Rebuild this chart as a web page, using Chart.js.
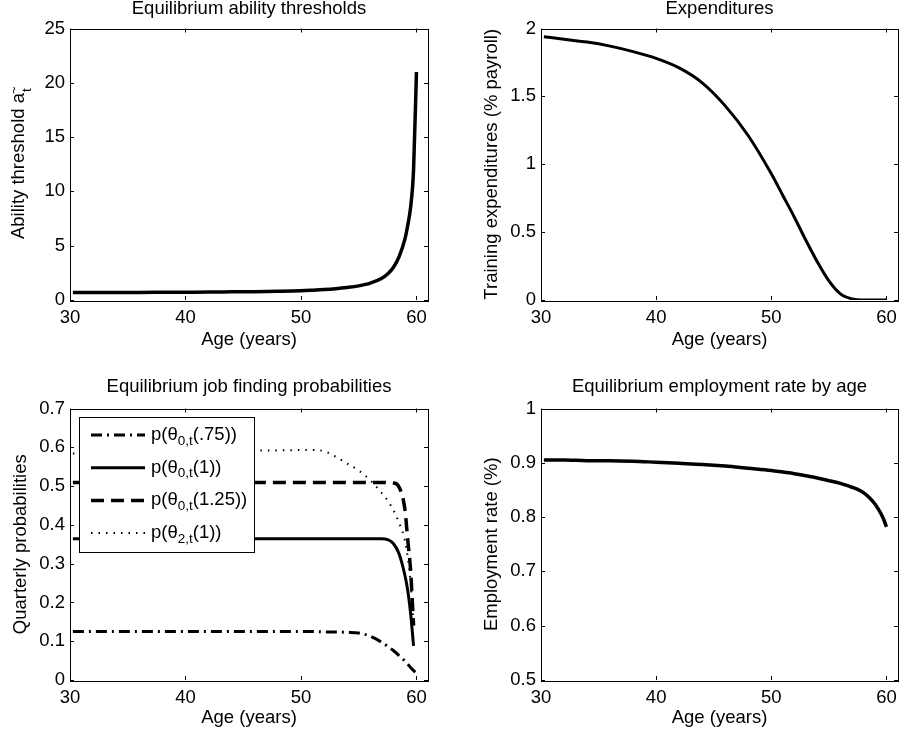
<!DOCTYPE html>
<html>
<head>
<meta charset="utf-8">
<script src="https://cdn.jsdelivr.net/npm/chart.js@4.4.1/dist/chart.umd.min.js"></script>
<style>
body{margin:0;background:#fff;width:900px;height:735px;position:relative;overflow:hidden}
canvas{position:absolute}
</style>
</head>
<body>
<canvas id="c1" width="450" height="360" style="left:0;top:0"></canvas>
<canvas id="c2" width="450" height="360" style="left:450px;top:0"></canvas>
<canvas id="c3" width="450" height="375" style="left:0;top:360px"></canvas>
<canvas id="c4" width="450" height="375" style="left:450px;top:360px"></canvas>
<script>
// ages (years), quarterly model
const ages = [30.25, 32, 34, 36, 38, 40, 42, 44, 46, 48, 50, 51, 52, 53, 54, 55, 56, 57, 57.5, 58, 58.5, 59, 59.25, 59.5, 59.75, 60];

const thresholds = [0.7, 0.7, 0.7, 0.7, 0.71, 0.72, 0.73, 0.75, 0.77, 0.8, 0.85, 0.9, 0.96, 1.04, 1.15, 1.3, 1.55, 2.0, 2.4, 3.0, 4.0, 5.6, 6.9, 8.6, 12, 21];
const expenditures = [1.94, 1.92, 1.9, 1.87, 1.83, 1.78, 1.71, 1.6, 1.43, 1.21, 0.93, 0.77, 0.61, 0.44, 0.28, 0.14, 0.045, 0.008, 0.002, 0, 0, 0, 0, 0, 0, 0];
const employment = [0.905, 0.905, 0.904, 0.904, 0.903, 0.901, 0.899, 0.897, 0.894, 0.89, 0.886, 0.883, 0.88, 0.876, 0.872, 0.867, 0.862, 0.855, 0.851, 0.845, 0.836, 0.824, 0.816, 0.807, 0.796, 0.782];

const p075 = [0.125, 0.125, 0.125, 0.125, 0.125, 0.125, 0.125, 0.125, 0.125, 0.125, 0.125, 0.125, 0.124, 0.124, 0.123, 0.121, 0.113, 0.097, 0.087, 0.076, 0.063, 0.049, 0.041, 0.032, 0.024, 0.018];
const p100 = [0.364, 0.364, 0.364, 0.364, 0.364, 0.364, 0.364, 0.364, 0.364, 0.364, 0.364, 0.364, 0.364, 0.364, 0.364, 0.364, 0.364, 0.364, 0.362, 0.352, 0.325, 0.27, 0.23, 0.17, 0.088, null];
const p125 = [0.509, 0.509, 0.509, 0.509, 0.509, 0.509, 0.509, 0.509, 0.509, 0.509, 0.509, 0.509, 0.509, 0.509, 0.509, 0.509, 0.509, 0.509, 0.509, 0.508, 0.497, 0.44, 0.36, 0.28, 0.14, null];
const p2 = [0.584, 0.585, 0.586, 0.587, 0.588, 0.589, 0.59, 0.591, 0.592, 0.592, 0.593, 0.593, 0.59, 0.576, 0.558, 0.54, 0.515, 0.482, 0.463, 0.438, 0.405, 0.36, 0.315, 0.25, 0.15, null];

// legend text pieces: p(θ_sub arg
const legendSubs = ['0,t', '0,t', '0,t', '2,t'];
const legendArgs = ['(.75))', '(1))', '(1.25))', '(1))'];

const xTicks = [30, 40, 50, 60];
const yTicks1 = [0, 5, 10, 15, 20, 25];
const yLabels1 = ['0', '5', '10', '15', '20', '25'];
const yTicks2 = [0, 0.5, 1, 1.5, 2];
const yLabels2 = ['0', '0.5', '1', '1.5', '2'];
const yTicks3 = [0, 0.1, 0.2, 0.3, 0.4, 0.5, 0.6, 0.7];
const yLabels3 = ['0', '0.1', '0.2', '0.3', '0.4', '0.5', '0.6', '0.7'];
const yTicks4 = [0.5, 0.6, 0.7, 0.8, 0.9, 1];
const yLabels4 = ['0.5', '0.6', '0.7', '0.8', '0.9', '1'];

const FONT = '"Liberation Sans", Arial, Helvetica, sans-serif';
const FS = 18.5;
Chart.defaults.font.family = FONT;
Chart.defaults.color = '#000';

function pts(vals){
  return ages.map((a, i) => ({x: a, y: vals[i]}));
}

function line(label, vals, width, dash){
  return {
    label: label,
    data: pts(vals),
    borderColor: '#000',
    borderWidth: width,
    borderDash: dash || [],
    pointRadius: 0,
    fill: false,
    cubicInterpolationMode: 'monotone'
  };
}

// box round the plot + inward tick marks on all sides
const framePlugin = {
  id: 'frame',
  afterDatasetsDraw(chart){
    const ctx = chart.ctx;
    const a = chart.chartArea;
    const x = chart.scales.x, y = chart.scales.y;
    const len = 4;
    ctx.save();
    ctx.strokeStyle = '#000';
    ctx.lineWidth = 1;
    ctx.strokeRect(Math.round(a.left) + 0.5, Math.round(a.top) + 0.5, Math.round(a.right - a.left), Math.round(a.bottom - a.top));
    ctx.beginPath();
    x.ticks.forEach(t => {
      const px = Math.round(x.getPixelForValue(t.value)) + 0.5;
      ctx.moveTo(px, a.bottom); ctx.lineTo(px, a.bottom - len);
      ctx.moveTo(px, a.top); ctx.lineTo(px, a.top + len);
    });
    y.ticks.forEach(t => {
      const py = Math.round(y.getPixelForValue(t.value)) + 0.5;
      ctx.moveTo(a.left, py); ctx.lineTo(a.left + len, py);
      ctx.moveTo(a.right, py); ctx.lineTo(a.right - len, py);
    });
    ctx.stroke();
    ctx.restore();
  }
};

// y label with subscript t and tilde for the first panel
const thresholdLabel = {
  id: 'thresholdLabel',
  afterDraw(chart){
    const ctx = chart.ctx;
    const a = chart.chartArea;
    ctx.save();
    ctx.translate(19, (a.top + a.bottom) / 2);
    ctx.rotate(-Math.PI / 2);
    ctx.fillStyle = '#000';
    ctx.textBaseline = 'middle';
    ctx.font = FS + 'px ' + FONT;
    const main = 'Ability threshold a';
    const w1 = ctx.measureText(main).width;
    ctx.font = '13px ' + FONT;
    const w2 = ctx.measureText('t').width;
    const x0 = -(w1 + w2) / 2;
    ctx.font = FS + 'px ' + FONT;
    ctx.fillText(main, x0, 0);
    ctx.font = '13px ' + FONT;
    ctx.fillText('t', x0 + w1 + 1, 8);
    ctx.fillText('~', x0 + w1 - 1, -5);
    ctx.restore();
  }
};

// legend box inside the job finding panel
const probLegend = {
  id: 'probLegend',
  afterDraw(chart){
    const ctx = chart.ctx;
    const bx = 79, by = 57, bw = 175, bh = 135;
    ctx.save();
    ctx.fillStyle = '#fff';
    ctx.fillRect(bx, by, bw, bh);
    ctx.strokeStyle = '#000';
    ctx.lineWidth = 1;
    ctx.strokeRect(bx + 0.5, by + 0.5, bw, bh);
    chart.data.datasets.forEach((ds, i) => {
      const cy = by + 18 + i * 32.7;
      ctx.beginPath();
      ctx.setLineDash(ds.borderDash);
      ctx.lineWidth = ds.borderWidth;
      ctx.moveTo(91, cy);
      ctx.lineTo(145, cy);
      ctx.stroke();
      ctx.setLineDash([]);
      ctx.fillStyle = '#000';
      ctx.textBaseline = 'middle';
      let tx = 151;
      ctx.font = FS + 'px ' + FONT;
      ctx.fillText('p(\u03B8', tx, cy);
      tx += ctx.measureText('p(\u03B8').width;
      ctx.font = '13.5px ' + FONT;
      ctx.fillText(legendSubs[i], tx, cy + 6);
      tx += ctx.measureText(legendSubs[i]).width;
      ctx.font = FS + 'px ' + FONT;
      ctx.fillText(legendArgs[i], tx, cy);
    });
    ctx.restore();
  }
};

function makeChart(id, cfg){
  const yt = cfg.yTicks, yl = cfg.yLabels;
  return new Chart(document.getElementById(id), {
    type: 'line',
    data: {datasets: cfg.datasets},
    plugins: [framePlugin].concat(cfg.plugins || []),
    options: {
      responsive: false,
      animation: false,
      layout: {padding: {left: 0, right: cfg.padRight, top: 0, bottom: 0}},
      plugins: {
        legend: {display: false},
        tooltip: {enabled: false},
        title: {
          display: true,
          fullSize: false,
          text: cfg.title,
          color: '#000',
          font: {size: FS, weight: 'normal', lineHeight: 1},
          padding: {top: cfg.titleTop, bottom: cfg.titleBottom}
        }
      },
      scales: {
        x: {
          type: 'linear',
          min: 30,
          max: 61,
          afterBuildTicks: s => { s.ticks = xTicks.map(v => ({value: v})); },
          afterFit: s => { s.height = cfg.xHeight; s.paddingLeft = 0; s.paddingRight = 0; },
          grid: {display: false, drawTicks: false},
          border: {display: false},
          ticks: {font: {size: FS}, padding: 7, maxRotation: 0, autoSkip: false, color: '#000'},
          title: {display: true, text: 'Age (years)', color: '#000', font: {size: FS, lineHeight: 1}, padding: {top: 0, bottom: cfg.xTitlePad}}
        },
        y: {
          type: 'linear',
          min: yt[0],
          max: yt[yt.length - 1],
          afterBuildTicks: s => { s.ticks = yt.map(v => ({value: v})); },
          afterFit: s => { s.width = cfg.yWidth; s.paddingTop = 0; s.paddingBottom = 0; },
          grid: {display: false, drawTicks: false},
          border: {display: false},
          ticks: {font: {size: FS}, padding: 5, autoSkip: false, color: '#000', callback: (v, i) => yl[i]},
          title: {display: cfg.yTitle !== '', text: cfg.yTitle, color: '#000', font: {size: FS, lineHeight: 1}, padding: {top: cfg.yTitlePad, bottom: 0}}
        }
      }
    }
  });
}

makeChart('c1', {
  title: 'Equilibrium ability thresholds',
  datasets: [line('threshold', thresholds, 3.5)],
  yTicks: yTicks1, yLabels: yLabels1,
  yTitle: '', yTitlePad: 0,
  padRight: 22, yWidth: 70, xHeight: 60, xTitlePad: 11,
  titleTop: 0, titleBottom: 10,
  plugins: [thresholdLabel]
});

makeChart('c2', {
  title: 'Expenditures',
  datasets: [line('expenditures', expenditures, 3)],
  yTicks: yTicks2, yLabels: yLabels2,
  yTitle: 'Training expenditures (% payroll)', yTitlePad: 33,
  padRight: 2, yWidth: 91, xHeight: 60, xTitlePad: 11,
  titleTop: 0, titleBottom: 10
});

makeChart('c3', {
  title: 'Equilibrium job finding probabilities',
  datasets: [
    line('p(θ0,t(.75))', p075, 3, [11, 5, 2, 5]),
    line('p(θ0,t(1))', p100, 3),
    line('p(θ0,t(1.25))', p125, 3.5, [13, 7]),
    line('p(θ2,t(1))', p2, 2, [1.5, 6])
  ],
  yTicks: yTicks3, yLabels: yLabels3,
  yTitle: 'Quarterly probabilities', yTitlePad: 12,
  padRight: 22, yWidth: 70, xHeight: 55, xTitlePad: 8,
  titleTop: 18, titleBottom: 12,
  plugins: [probLegend]
});

makeChart('c4', {
  title: 'Equilibrium employment rate by age',
  datasets: [line('employment', employment, 3.5)],
  yTicks: yTicks4, yLabels: yLabels4,
  yTitle: 'Employment rate (%)', yTitlePad: 33,
  padRight: 2, yWidth: 91, xHeight: 55, xTitlePad: 8,
  titleTop: 18, titleBottom: 12
});
</script>
</body>
</html>
